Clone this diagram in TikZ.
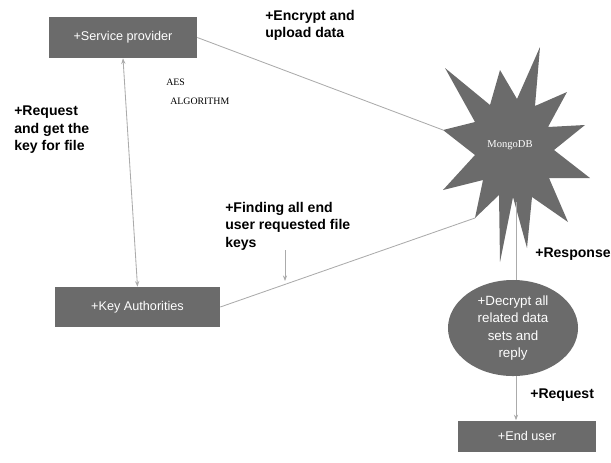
\documentclass[tikz,border=0pt]{standalone}
\usepackage{fontspec}
\setmainfont{Liberation Sans}
\newfontfamily\smallserif{Liberation Serif}
\usepackage{tikz}
\usetikzlibrary{positioning, calc, shapes.geometric, arrows.meta}

\definecolor{boxgray}{HTML}{6B6B6B}
\definecolor{linkgray}{HTML}{ABABAB}

\begin{document}
\begin{tikzpicture}[
    x=0.025cm, y=-0.025cm,
    box/.style={rectangle, fill=boxgray, text=white, inner sep=0pt, font=\fontsize{9}{11}\selectfont},
    blob/.style={ellipse, fill=boxgray, text=white, inner sep=0pt, align=center, font=\fontsize{9.5}{12.5}\selectfont},
    lbl/.style={anchor=north west, align=left, inner sep=0pt, font=\fontsize{10}{12.3}\selectfont\bfseries},
    link/.style={draw=linkgray, line width=0.6pt},
    tip/.style={-{Stealth[length=4pt, width=3pt]}}
]
\useasboundingbox (0,0) rectangle (611,462);

% --- Boxes of the three parties ---
\node[box, minimum width=3.7cm, minimum height=1.025cm] (sp) at (123,37.5) {+Service provider};
\node[box, minimum width=4.125cm, minimum height=1cm] (ka) at (137.5,307) {+Key Authorities};
\node[box, minimum width=3.45cm, minimum height=0.775cm] (eu) at (527,436) {+End user};

% --- Cloud store (star burst) ---
\fill[boxgray] (445,68) -- (490,105) -- (500,70) -- (517,99) -- (540,47) -- (535,106)
    -- (567,92) -- (548,127) -- (585,125) -- (554,150) -- (590,178) -- (549,178)
    -- (568,222) -- (532,197) -- (527,248) -- (513,197) -- (500,262) -- (499,195)
    -- (475,218) -- (483,180) -- (443,190) -- (475,155) -- (443,130) -- (475,122) -- cycle;
\node[text=white, font=\smallserif\fontsize{7.5}{9}\selectfont] (mongo) at (510,145) {MongoDB};
\coordinate (mongoL) at (443,130);
\coordinate (mongoBL) at (475,218);
\coordinate (mongoS) at (516,202);

% --- Decrypt step ---
\node[blob, minimum width=3.25cm, minimum height=2.4cm] (dec) at (513,328)
    {+Decrypt all\\related data\\sets and\\reply};

% --- Connectors ---
\draw[link] (sp.east) -- (mongoL);
\draw[link, {Stealth[length=4pt, width=3pt]}-{Stealth[length=4pt, width=3pt]}] (sp.south) -- (ka.north);
\draw[link] (ka.east) -- (mongoBL);
\draw[link] (mongoS) -- (mongoS |- dec.north);
\draw[link, tip] (mongoS |- dec.south) -- (mongoS |- eu.north);

% --- Labels ---
\node[lbl] (enc) at (265,10) {+Encrypt and\\upload data};
\node[lbl] (req) at (14,106) {+Request\\and get the\\key for file};
\node[lbl] (find) at (225,202) {+Finding all end\\user requested file\\keys};
\node[lbl, anchor=west] (resp) at (535,254) {+Response};
\node[lbl, anchor=west] (ureq) at (530,395) {+Request};
\node[anchor=west, inner sep=0pt, font=\smallserif\fontsize{7}{8}\selectfont] (aes) at (166,82) {AES};
\node[anchor=west, inner sep=0pt, font=\smallserif\fontsize{7}{8}\selectfont] (algo) at (170,101) {ALGORITHM};

\coordinate (findtip) at (285,281);
\draw[link, tip] (findtip |- find.south) -- (findtip);

\end{tikzpicture}
\end{document}
